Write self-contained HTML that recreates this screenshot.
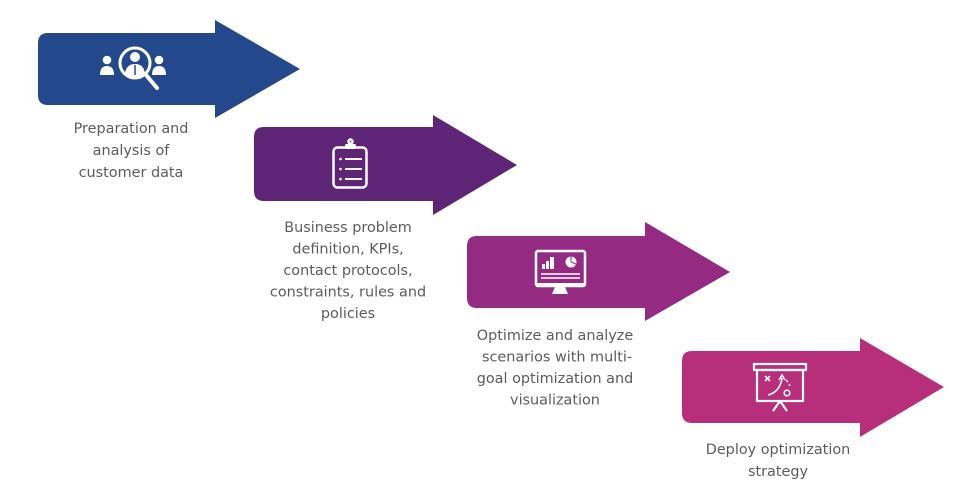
<!DOCTYPE html>
<html>
<head>
<meta charset="utf-8">
<style>
html,body{margin:0;padding:0;background:#fff;}
svg{display:block;}
text{font-family:"DejaVu Sans","Liberation Sans",sans-serif;font-size:14.4px;fill:#5c5c5c;text-anchor:middle;}
</style>
</head>
<body>
<svg width="962" height="503" viewBox="0 0 962 503" xmlns="http://www.w3.org/2000/svg">
  <rect width="962" height="503" fill="#fff"/>

  <!-- Arrow 1 -->
  <path d="M48,33 H215 V20 L300,69 L215,118 V105 H48 Q38,105 38,95 V43 Q38,33 48,33 Z" fill="#24488c"/>
  <!-- Arrow 2 -->
  <path d="M264,127 H433 V115 L517,165 L433,215 V201 H264 Q254,201 254,191 V137 Q254,127 264,127 Z" fill="#5e2476"/>
  <!-- Arrow 3 -->
  <path d="M477,236 H645 V222 L730,272 L645,321 V308 H477 Q467,308 467,298 V246 Q467,236 477,236 Z" fill="#952a82"/>
  <!-- Arrow 4 -->
  <path d="M692,351 H860 V338 L944,387 L860,437 V423 H692 Q682,423 682,413 V361 Q682,351 692,351 Z" fill="#b72f7b"/>

  <!-- Icon 1: people + magnifier -->
  <g fill="#fff">
    <circle cx="107" cy="60" r="4.3"/>
    <path d="M100,75 Q100,66 107,66 Q114,66 114,75 Z"/>
    <circle cx="159" cy="60" r="4.3"/>
    <path d="M152,75 Q152,66 159,66 Q166,66 166,75 Z"/>
    <circle cx="135" cy="57" r="5"/>
    <path d="M125,74 Q126,64 135,64 Q144,64 145,74 Q140,78 135,78 Q130,78 125,74 Z"/>
  </g>
  <line x1="135" y1="65" x2="135" y2="75" stroke="#24488c" stroke-width="1.5"/>
  <circle cx="135" cy="63" r="15" fill="none" stroke="#fff" stroke-width="3"/>
  <line x1="146" y1="75" x2="157" y2="88" stroke="#fff" stroke-width="4" stroke-linecap="round"/>

  <!-- Icon 2: clipboard -->
  <g stroke="#fff" fill="none" stroke-width="2.5">
    <rect x="333.5" y="147.5" width="33" height="40" rx="4"/>
    <rect x="345" y="144" width="11" height="5" rx="1.5" fill="#fff" stroke="none"/>
    <circle cx="350.5" cy="141.5" r="2"/>
    <line x1="345" y1="159" x2="362" y2="159" stroke-width="2"/>
    <line x1="345" y1="169" x2="362" y2="169" stroke-width="2"/>
    <line x1="345" y1="179" x2="362" y2="179" stroke-width="2"/>
  </g>
  <g fill="#fff">
    <circle cx="340.5" cy="159" r="1.3"/>
    <circle cx="340.5" cy="169" r="1.3"/>
    <circle cx="340.5" cy="179" r="1.3"/>
  </g>

  <!-- Icon 3: monitor -->
  <g>
    <rect x="536" y="251" width="49" height="35" rx="2" fill="none" stroke="#fff" stroke-width="2.5"/>
    <rect x="536" y="283" width="49" height="4" fill="#fff"/>
    <path d="M555,287 H565 L568,294 H552 Z" fill="#fff"/>
    <rect x="542" y="264" width="3" height="5" fill="#fff"/>
    <rect x="546" y="261" width="3" height="8" fill="#fff"/>
    <rect x="550" y="257" width="4" height="12" fill="#fff"/>
    <circle cx="571" cy="262" r="5.5" fill="#fff"/>
    <path d="M571,262 L571,256.5 M571,262 L576,264" stroke="#952a82" stroke-width="1"/>
    <line x1="541" y1="274" x2="580" y2="274" stroke="#fff" stroke-width="1.5"/>
    <line x1="541" y1="278" x2="580" y2="278" stroke="#fff" stroke-width="1.5"/>
  </g>

  <!-- Icon 4: presentation board -->
  <g stroke="#fff" fill="none" stroke-width="2.2">
    <rect x="754" y="364" width="52" height="6"/>
    <rect x="757" y="370" width="46" height="31"/>
    <line x1="780" y1="401" x2="773" y2="411"/>
    <line x1="780" y1="401" x2="787" y2="411"/>
    <path d="M765,376 L770,381 M770,376 L765,381" stroke-width="1.6"/>
    <path d="M768,395 Q780,392 782,378" stroke-width="1.6"/>
    <path d="M779,380 L782,375 L785,380" stroke-width="1.6"/>
    <circle cx="787" cy="393" r="2.8" stroke-width="1.6"/>
    <path d="M786,380 L788,382 M789,384 L790,386" stroke-width="1.4"/>
  </g>

  <!-- Labels -->
  <text x="131" y="133">Preparation and</text>
  <text x="131" y="155">analysis of</text>
  <text x="131" y="177">customer data</text>

  <text x="348" y="232">Business problem</text>
  <text x="348" y="253.5">definition, KPIs,</text>
  <text x="348" y="275">contact protocols,</text>
  <text x="348" y="296.5">constraints, rules and</text>
  <text x="348" y="318">policies</text>

  <text x="555" y="340">Optimize and analyze</text>
  <text x="557" y="361.5">scenarios with multi-</text>
  <text x="555" y="383">goal optimization and</text>
  <text x="555" y="404.5">visualization</text>

  <text x="778" y="454">Deploy optimization</text>
  <text x="778" y="476">strategy</text>
</svg>
</body>
</html>
